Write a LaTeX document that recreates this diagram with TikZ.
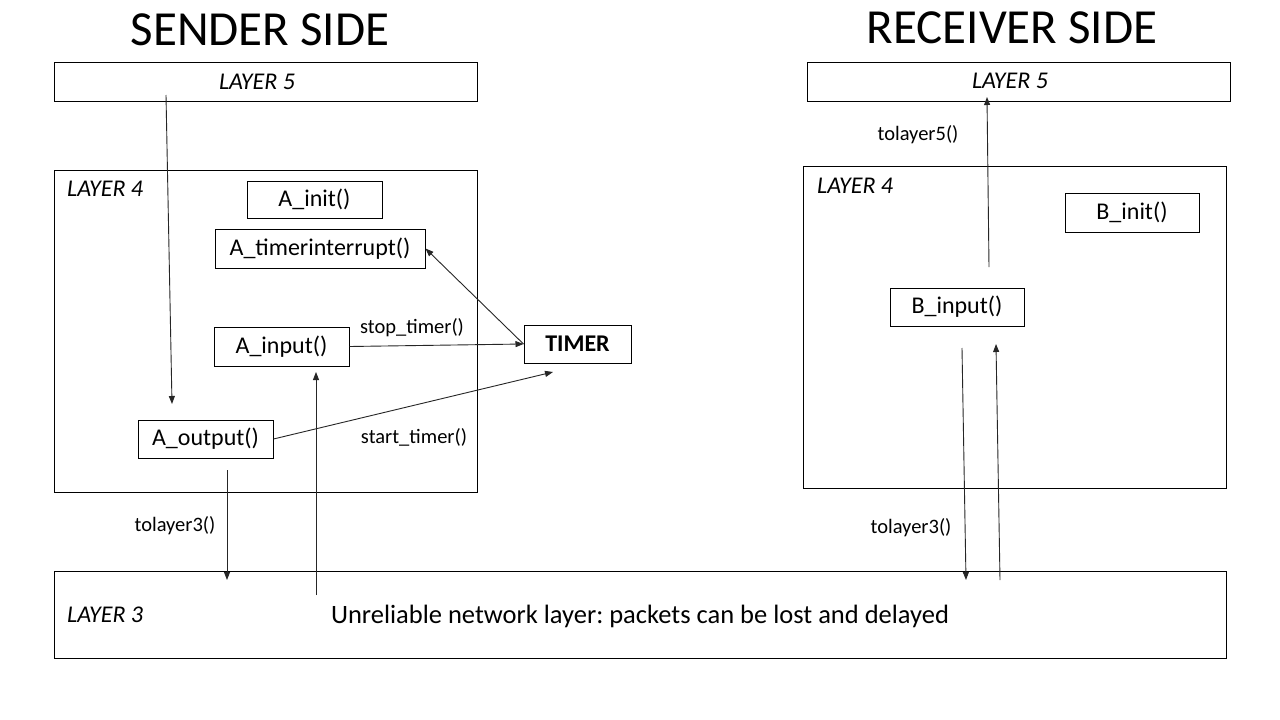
\documentclass[tikz,border=0pt]{standalone}
\usepackage{fontspec}
\setmainfont{Carlito}
\frenchspacing
\usetikzlibrary{arrows.meta}

\tikzset{
    fn/.style={draw, line width=1pt, inner sep=0pt, font=\fontsize{24}{28}\selectfont},
    layer/.style={draw, line width=1pt, inner sep=0pt},
    layername/.style={inner sep=0pt, font=\fontsize{24}{28}\selectfont\itshape},
    call/.style={inner sep=0pt, font=\fontsize{20.5}{24}\selectfont},
    msg/.style={line width=0.9pt, black!85, -{Triangle[length=8pt,width=6pt]}}
}

\begin{document}
\begin{tikzpicture}[x=1pt,y=-1pt]
    \useasboundingbox[fill=white] (0,0) rectangle (1280,720);

    % headings
    \node[inner sep=0pt, font=\fontsize{49}{54}\selectfont] (sendhead) at (260,30) {SENDER SIDE};
    \node[inner sep=0pt, font=\fontsize{49}{54}\selectfont] (recvhead) at (1012,28) {RECEIVER SIDE};

    % layer boxes
    \node[layer, minimum width=423pt, minimum height=39pt] (s5) at (265.5,81.5) {};
    \node[layer, minimum width=423pt, minimum height=39pt] (r5) at (1018.5,81.5) {};
    \node[layer, minimum width=423pt, minimum height=322pt] (s4) at (265.5,331) {};
    \node[layer, minimum width=423pt, minimum height=322pt] (r4) at (1014.5,327) {};
    \node[layer, minimum width=1172pt, minimum height=87pt] (l3) at (640,614.5) {};

    \node[layername] (s5name) at (257,82) {LAYER 5};
    \node[layername] (r5name) at (1010,81) {LAYER 5};
    \node[layername, anchor=west] (s4name) at (67,189) {LAYER 4};
    \node[layername, anchor=west] (r4name) at (817,186) {LAYER 4};
    \node[layername, anchor=west] (l3name) at (67,615) {LAYER 3};
    \node[inner sep=0pt, font=\fontsize{26.5}{30}\selectfont] (l3text) at (640,616) {Unreliable network layer: packets can be lost and delayed};

    % sender routines
    \node[fn, minimum width=135pt, minimum height=37pt] (ainit) at (314.5,199.5) {A\_init()};
    \node[fn, minimum width=210pt, minimum height=39pt] (atimer) at (320,248.5) {A\_timerinterrupt()};
    \node[fn, minimum width=135pt, minimum height=39pt] (ainput) at (281.5,346.5) {A\_input()};
    \node[fn, minimum width=135pt, minimum height=38pt] (aoutput) at (205.5,439) {A\_output()};
    \node[fn, minimum width=107pt, minimum height=38pt, font=\fontsize{24}{28}\selectfont\bfseries] (timer) at (577.5,344) {TIMER};

    % receiver routines
    \node[fn, minimum width=134pt, minimum height=39pt] (binit) at (1132,212.5) {B\_init()};
    \node[fn, minimum width=134pt, minimum height=38pt] (binput) at (957,307) {B\_input()};

    % free ends
    \coordinate (sdown1) at (166,95);
    \coordinate (sdown2) at (172,404);
    \coordinate (timerlow) at (553,372);
    \coordinate (sout1) at (227,470);
    \coordinate (sout2) at (227,580);
    \coordinate (sin1) at (316,595);
    \coordinate (sin2) at (316,372);
    \coordinate (rdown1) at (962,348);
    \coordinate (rdown2) at (966,580);
    \coordinate (rup1) at (1000,580);
    \coordinate (rup2) at (996,344);
    \coordinate (rtop1) at (989,267);
    \coordinate (rtop2) at (987,97);

    % sender arrows
    \draw[msg] (sdown1) -- (sdown2);
    \draw[msg] (ainput.east) -- (timer.west);
    \node[call] (stoplbl) at (412,328) {stop\_timer()};
    \draw[msg] (timer.west) -- (atimer.east);
    \draw[msg] (aoutput.east) -- (timerlow);
    \node[call] (startlbl) at (414,437) {start\_timer()};
    \draw[msg] (sout1) -- (sout2);
    \node[call] (s3lbl) at (175,526) {tolayer3()};
    \draw[msg] (sin1) -- (sin2);

    % receiver arrows
    \draw[msg] (rdown1) -- (rdown2);
    \draw[msg] (rup1) -- (rup2);
    \node[call] (r3lbl) at (911,528) {tolayer3()};
    \draw[msg] (rtop1) -- (rtop2);
    \node[call] (r5lbl) at (918,135) {tolayer5()};
\end{tikzpicture}
\end{document}
